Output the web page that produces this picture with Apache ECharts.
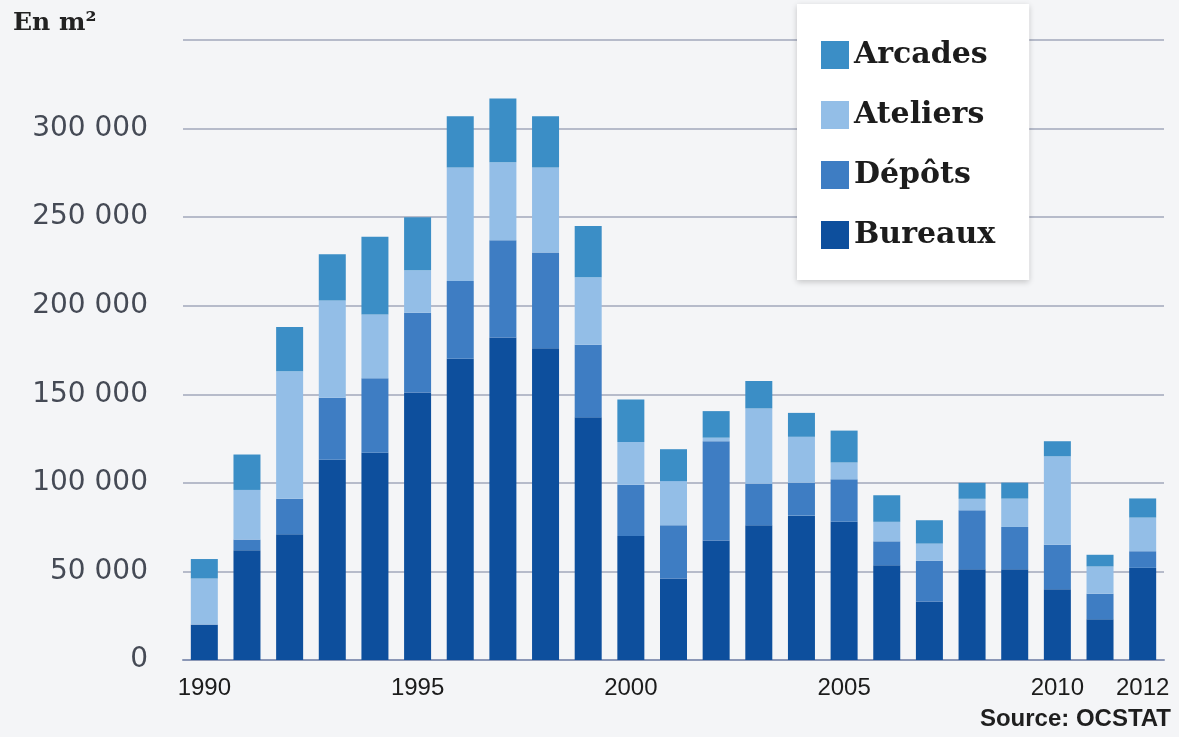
<!DOCTYPE html>
<html>
<head>
<meta charset="utf-8">
<script src="https://cdn.jsdelivr.net/npm/echarts@6/dist/echarts.min.js"></script>
<style>
  html, body {margin: 0; padding: 0; background: #f4f5f7;}
  #chart {width: 1179px; height: 737px;}
</style>
</head>
<body>
<div id="chart"></div>
<script>
// années
var years = ['1990', '1991', '1992', '1993', '1994', '1995', '1996', '1997', '1998', '1999',
    '2000', '2001', '2002', '2003', '2004', '2005', '2006', '2007', '2008', '2009',
    '2010', '2011', '2012'];
// surfaces en m2
var bureaux = [20000, 62000, 71000, 113000, 117000, 151000, 170000, 182000, 176000, 137000,
    70000, 46000, 67500, 76000, 81500, 78000, 53500, 33000, 51300, 51300,
    40000, 23000, 52000];
var depots = [0, 6000, 20000, 35000, 42000, 45000, 44000, 55000, 54000, 41000,
    29000, 30000, 56000, 23500, 18500, 24000, 13500, 23000, 33200, 23800,
    25000, 14400, 9400];
var ateliers = [26000, 28000, 72000, 55000, 36000, 24000, 64000, 44000, 48000, 38000,
    24000, 25000, 2000, 42500, 26000, 9500, 11000, 9700, 6500, 16000,
    50000, 15400, 19000];
var arcades = [11000, 20000, 25000, 26000, 44000, 30000, 29000, 36000, 29000, 29000,
    24000, 18000, 15000, 15500, 13500, 18000, 15000, 13200, 9000, 9000,
    8500, 6600, 10800];
var shownYears = ['1990', '1995', '2000', '2005', '2010', '2012'];

var myChart = echarts.init(document.getElementById('chart'));

function serie(name, data, color) {
    return {
        name: name,
        type: 'bar',
        stack: 'total',
        barWidth: 27,
        data: data,
        itemStyle: {color: color}
    };
}

myChart.setOption({
    backgroundColor: '#f4f5f7',
    animation: false,
    title: {
        text: 'En m²',
        left: 8,
        top: 6,
        textStyle: {fontFamily: 'DejaVu Serif', fontWeight: 'bold', fontSize: 25, color: '#222'}
    },
    graphic: [{
        type: 'text',
        right: 8,
        top: 707,
        style: {
            text: 'Source: OCSTAT',
            font: 'bold 24px "Liberation Sans Narrow", "Liberation Sans"',
            fill: '#1f1f1f'
        }
    }],
    legend: {
        orient: 'vertical',
        left: 797,
        top: 4,
        data: ['Arcades', 'Ateliers', 'Dépôts', 'Bureaux'],
        selectedMode: false,
        icon: 'rect',
        itemWidth: 28,
        itemHeight: 28,
        itemGap: 30,
        padding: [36, 34, 30, 24],
        backgroundColor: '#ffffff',
        shadowBlur: 6,
        shadowColor: 'rgba(0, 0, 0, 0.2)',
        shadowOffsetY: 2,
        textStyle: {fontFamily: 'DejaVu Serif', fontWeight: 'bold', fontSize: 30, color: '#1c1c1c'}
    },
    grid: {left: 183, right: 15, top: 40, bottom: 77, containLabel: false},
    xAxis: {
        type: 'category',
        data: years,
        axisTick: {show: false},
        axisLine: {lineStyle: {color: '#8b97b6', width: 2}},
        axisLabel: {
            interval: function(index, value) {
                return shownYears.indexOf(value) >= 0;
            },
            margin: 16,
            fontFamily: '"Liberation Sans Narrow", "Liberation Sans", sans-serif',
            fontSize: 24,
            color: '#1c1c1c'
        }
    },
    yAxis: {
        type: 'value',
        min: 0,
        max: 350000,
        interval: 50000,
        axisLine: {show: false},
        axisTick: {show: false},
        splitLine: {lineStyle: {color: '#a2a7bb', width: 1.5}},
        axisLabel: {
            margin: 35,
            fontFamily: 'DejaVu Sans',
            fontSize: 28,
            color: '#454a55',
            formatter: function(v) {
                if (v >= 350000) return '';
                return String(v).replace(/\B(?=(\d{3})+(?!\d))/g, ' ');
            }
        }
    },
    series: [
        serie('Bureaux', bureaux, '#0d4f9d'),
        serie('Dépôts', depots, '#3e7dc3'),
        serie('Ateliers', ateliers, '#93bee7'),
        serie('Arcades', arcades, '#3b8ec6')
    ]
});
window.onresize = myChart.resize;
</script>
</body>
</html>
